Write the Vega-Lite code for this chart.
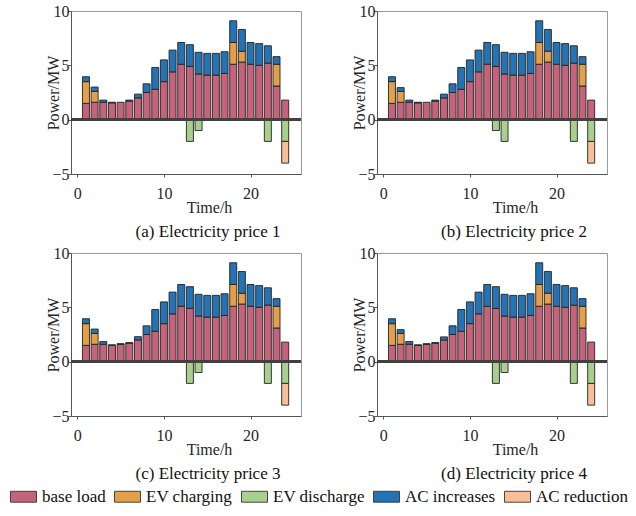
{
  "$schema": "https://vega.github.io/schema/vega-lite/v6.json",
  "padding": {"left": 10, "top": 2, "right": 5, "bottom": 5},
  "background": "white",
  "data": {
    "values": [
      {"p": "a", "h": 1, "base load": 1.5, "EV charging": 2.0, "AC increases": 0.45},
      {"p": "a", "h": 2, "base load": 1.6, "EV charging": 1.0, "AC increases": 0.4},
      {"p": "a", "h": 3, "base load": 1.6, "AC increases": 0.2},
      {"p": "a", "h": 4, "base load": 1.55, "AC increases": 0.05},
      {"p": "a", "h": 5, "base load": 1.6},
      {"p": "a", "h": 6, "base load": 1.7, "AC increases": 0.1},
      {"p": "a", "h": 7, "base load": 2.0, "AC increases": 0.35},
      {"p": "a", "h": 8, "base load": 2.5, "AC increases": 0.8},
      {"p": "a", "h": 9, "base load": 2.8, "AC increases": 2.0},
      {"p": "a", "h": 10, "base load": 3.5, "AC increases": 2.0},
      {"p": "a", "h": 11, "base load": 4.4, "AC increases": 2.0},
      {"p": "a", "h": 12, "base load": 5.1, "AC increases": 2.0},
      {"p": "a", "h": 13, "base load": 4.9, "EV discharge": -2.0, "AC increases": 2.0},
      {"p": "a", "h": 14, "base load": 4.2, "EV discharge": -1.0, "AC increases": 2.0},
      {"p": "a", "h": 15, "base load": 4.1, "AC increases": 2.0},
      {"p": "a", "h": 16, "base load": 4.1, "AC increases": 2.0},
      {"p": "a", "h": 17, "base load": 4.25, "AC increases": 2.0},
      {"p": "a", "h": 18, "base load": 5.1, "EV charging": 2.0, "AC increases": 2.0},
      {"p": "a", "h": 19, "base load": 5.3, "EV charging": 1.0, "AC increases": 2.0},
      {"p": "a", "h": 20, "base load": 5.1, "AC increases": 2.0},
      {"p": "a", "h": 21, "base load": 5.0, "AC increases": 2.0},
      {"p": "a", "h": 22, "base load": 5.2, "EV discharge": -2.0, "AC increases": 1.6},
      {"p": "a", "h": 23, "base load": 3.1, "EV charging": 2.0, "AC increases": 0.7},
      {"p": "a", "h": 24, "base load": 1.8, "EV discharge": -2.0, "AC reduction": -2.0},
      {"p": "b", "h": 1, "base load": 1.5, "EV charging": 2.0, "AC increases": 0.45},
      {"p": "b", "h": 2, "base load": 1.6, "EV charging": 1.0, "AC increases": 0.35},
      {"p": "b", "h": 3, "base load": 1.6, "AC increases": 0.2},
      {"p": "b", "h": 4, "base load": 1.55, "AC increases": 0.05},
      {"p": "b", "h": 5, "base load": 1.6},
      {"p": "b", "h": 6, "base load": 1.7, "AC increases": 0.1},
      {"p": "b", "h": 7, "base load": 2.0, "AC increases": 0.35},
      {"p": "b", "h": 8, "base load": 2.5, "AC increases": 0.8},
      {"p": "b", "h": 9, "base load": 2.8, "AC increases": 2.0},
      {"p": "b", "h": 10, "base load": 3.5, "AC increases": 2.0},
      {"p": "b", "h": 11, "base load": 4.4, "AC increases": 2.0},
      {"p": "b", "h": 12, "base load": 5.1, "AC increases": 2.0},
      {"p": "b", "h": 13, "base load": 4.9, "EV discharge": -1.0, "AC increases": 2.0},
      {"p": "b", "h": 14, "base load": 4.2, "EV discharge": -2.0, "AC increases": 2.0},
      {"p": "b", "h": 15, "base load": 4.1, "AC increases": 2.0},
      {"p": "b", "h": 16, "base load": 4.1, "AC increases": 2.0},
      {"p": "b", "h": 17, "base load": 4.25, "AC increases": 2.0},
      {"p": "b", "h": 18, "base load": 5.1, "EV charging": 2.0, "AC increases": 2.0},
      {"p": "b", "h": 19, "base load": 5.3, "EV charging": 1.0, "AC increases": 2.0},
      {"p": "b", "h": 20, "base load": 5.1, "AC increases": 2.0},
      {"p": "b", "h": 21, "base load": 5.0, "AC increases": 2.0},
      {"p": "b", "h": 22, "base load": 5.2, "EV discharge": -2.0, "AC increases": 1.6},
      {"p": "b", "h": 23, "base load": 3.1, "EV charging": 2.0, "AC increases": 0.7},
      {"p": "b", "h": 24, "base load": 1.8, "EV discharge": -2.0, "AC reduction": -2.0},
      {"p": "c", "h": 1, "base load": 1.5, "EV charging": 2.0, "AC increases": 0.45},
      {"p": "c", "h": 2, "base load": 1.6, "EV charging": 1.0, "AC increases": 0.4},
      {"p": "c", "h": 3, "base load": 1.6, "AC increases": 0.25},
      {"p": "c", "h": 4, "base load": 1.5, "AC increases": 0.05},
      {"p": "c", "h": 5, "base load": 1.6, "AC increases": 0.05},
      {"p": "c", "h": 6, "base load": 1.7, "AC increases": 0.05},
      {"p": "c", "h": 7, "base load": 2.0, "AC increases": 0.3},
      {"p": "c", "h": 8, "base load": 2.5, "AC increases": 0.8},
      {"p": "c", "h": 9, "base load": 2.8, "AC increases": 2.0},
      {"p": "c", "h": 10, "base load": 3.5, "AC increases": 2.0},
      {"p": "c", "h": 11, "base load": 4.4, "AC increases": 2.0},
      {"p": "c", "h": 12, "base load": 5.1, "AC increases": 2.0},
      {"p": "c", "h": 13, "base load": 4.9, "EV discharge": -2.0, "AC increases": 2.0},
      {"p": "c", "h": 14, "base load": 4.2, "EV discharge": -1.0, "AC increases": 2.0},
      {"p": "c", "h": 15, "base load": 4.1, "AC increases": 2.0},
      {"p": "c", "h": 16, "base load": 4.1, "AC increases": 2.0},
      {"p": "c", "h": 17, "base load": 4.25, "AC increases": 2.0},
      {"p": "c", "h": 18, "base load": 5.1, "EV charging": 2.0, "AC increases": 2.0},
      {"p": "c", "h": 19, "base load": 5.3, "EV charging": 1.0, "AC increases": 2.0},
      {"p": "c", "h": 20, "base load": 5.1, "AC increases": 2.0},
      {"p": "c", "h": 21, "base load": 5.0, "AC increases": 2.0},
      {"p": "c", "h": 22, "base load": 5.2, "EV discharge": -2.0, "AC increases": 1.6},
      {"p": "c", "h": 23, "base load": 3.1, "EV charging": 2.0, "AC increases": 0.7},
      {"p": "c", "h": 24, "base load": 1.8, "EV discharge": -2.0, "AC reduction": -2.0},
      {"p": "d", "h": 1, "base load": 1.5, "EV charging": 2.0, "AC increases": 0.45},
      {"p": "d", "h": 2, "base load": 1.6, "EV charging": 1.0, "AC increases": 0.35},
      {"p": "d", "h": 3, "base load": 1.6, "AC increases": 0.25},
      {"p": "d", "h": 4, "base load": 1.5, "AC increases": 0.05},
      {"p": "d", "h": 5, "base load": 1.6, "AC increases": 0.05},
      {"p": "d", "h": 6, "base load": 1.7, "AC increases": 0.05},
      {"p": "d", "h": 7, "base load": 2.0, "AC increases": 0.28},
      {"p": "d", "h": 8, "base load": 2.5, "AC increases": 0.8},
      {"p": "d", "h": 9, "base load": 2.8, "AC increases": 2.0},
      {"p": "d", "h": 10, "base load": 3.5, "AC increases": 2.0},
      {"p": "d", "h": 11, "base load": 4.4, "AC increases": 2.0},
      {"p": "d", "h": 12, "base load": 5.1, "AC increases": 2.0},
      {"p": "d", "h": 13, "base load": 4.9, "EV discharge": -2.0, "AC increases": 2.0},
      {"p": "d", "h": 14, "base load": 4.2, "EV discharge": -1.0, "AC increases": 2.0},
      {"p": "d", "h": 15, "base load": 4.1, "AC increases": 2.0},
      {"p": "d", "h": 16, "base load": 4.1, "AC increases": 2.0},
      {"p": "d", "h": 17, "base load": 4.25, "AC increases": 2.0},
      {"p": "d", "h": 18, "base load": 5.1, "EV charging": 2.0, "AC increases": 2.0},
      {"p": "d", "h": 19, "base load": 5.3, "EV charging": 1.0, "AC increases": 2.0},
      {"p": "d", "h": 20, "base load": 5.1, "AC increases": 2.0},
      {"p": "d", "h": 21, "base load": 5.0, "AC increases": 2.0},
      {"p": "d", "h": 22, "base load": 5.2, "EV discharge": -2.0, "AC increases": 1.6},
      {"p": "d", "h": 23, "base load": 3.1, "EV charging": 2.0, "AC increases": 0.7},
      {"p": "d", "h": 24, "base load": 1.8, "EV discharge": -2.0, "AC reduction": -2.0}
    ]
  },
  "transform": [
    {"fold": ["base load", "EV charging", "EV discharge", "AC increases", "AC reduction"], "as": ["type", "value"]},
    {"filter": "datum.value != null && datum.value != 0"}
  ],
  "columns": 2,
  "spacing": {"column": 48, "row": 3},
  "concat": [
    {
      "title": {"text": "(a) Electricity price 1"},
      "width": 230, "height": 163,
      "transform": [{"filter": "datum.p == 'a'"}],
      "layer": [
        {
          "mark": "bar",
          "encoding": {
            "x": {"field": "h", "type": "quantitative", "scale": {"domain": [-0.15, 25.25], "nice": false, "zero": false}, "axis": {"values": [0, 10, 20], "title": "Time/h"}},
            "y": {"field": "value", "type": "quantitative", "scale": {"domain": [-5, 10], "nice": false}, "axis": {"values": [-5, 0, 5, 10], "title": "Power/MW"}},
            "color": {"field": "type", "type": "nominal", "sort": ["base load", "EV charging", "EV discharge", "AC increases", "AC reduction"],
              "scale": {"domain": ["base load", "EV charging", "EV discharge", "AC increases", "AC reduction"], "range": ["#C4637A", "#E3A048", "#A9CF8E", "#2473B5", "#F7BE98"]}}
          }
        },
        {"mark": {"type": "rule", "color": "#404040", "strokeWidth": 2.5}, "encoding": {"y": {"datum": 0}}}
      ]
    },
    {
      "title": {"text": "(b) Electricity price 2"},
      "width": 230, "height": 163,
      "transform": [{"filter": "datum.p == 'b'"}],
      "layer": [
        {
          "mark": "bar",
          "encoding": {
            "x": {"field": "h", "type": "quantitative", "scale": {"domain": [-0.15, 25.25], "nice": false, "zero": false}, "axis": {"values": [0, 10, 20], "title": "Time/h"}},
            "y": {"field": "value", "type": "quantitative", "scale": {"domain": [-5, 10], "nice": false}, "axis": {"values": [-5, 0, 5, 10], "title": "Power/MW"}},
            "color": {"field": "type", "type": "nominal", "sort": ["base load", "EV charging", "EV discharge", "AC increases", "AC reduction"],
              "scale": {"domain": ["base load", "EV charging", "EV discharge", "AC increases", "AC reduction"], "range": ["#C4637A", "#E3A048", "#A9CF8E", "#2473B5", "#F7BE98"]}}
          }
        },
        {"mark": {"type": "rule", "color": "#404040", "strokeWidth": 2.5}, "encoding": {"y": {"datum": 0}}}
      ]
    },
    {
      "title": {"text": "(c) Electricity price 3"},
      "width": 230, "height": 163,
      "transform": [{"filter": "datum.p == 'c'"}],
      "layer": [
        {
          "mark": "bar",
          "encoding": {
            "x": {"field": "h", "type": "quantitative", "scale": {"domain": [-0.15, 25.25], "nice": false, "zero": false}, "axis": {"values": [0, 10, 20], "title": "Time/h"}},
            "y": {"field": "value", "type": "quantitative", "scale": {"domain": [-5, 10], "nice": false}, "axis": {"values": [-5, 0, 5, 10], "title": "Power/MW"}},
            "color": {"field": "type", "type": "nominal", "sort": ["base load", "EV charging", "EV discharge", "AC increases", "AC reduction"],
              "scale": {"domain": ["base load", "EV charging", "EV discharge", "AC increases", "AC reduction"], "range": ["#C4637A", "#E3A048", "#A9CF8E", "#2473B5", "#F7BE98"]}}
          }
        },
        {"mark": {"type": "rule", "color": "#404040", "strokeWidth": 2.5}, "encoding": {"y": {"datum": 0}}}
      ]
    },
    {
      "title": {"text": "(d) Electricity price 4"},
      "width": 230, "height": 163,
      "transform": [{"filter": "datum.p == 'd'"}],
      "layer": [
        {
          "mark": "bar",
          "encoding": {
            "x": {"field": "h", "type": "quantitative", "scale": {"domain": [-0.15, 25.25], "nice": false, "zero": false}, "axis": {"values": [0, 10, 20], "title": "Time/h"}},
            "y": {"field": "value", "type": "quantitative", "scale": {"domain": [-5, 10], "nice": false}, "axis": {"values": [-5, 0, 5, 10], "title": "Power/MW"}},
            "color": {"field": "type", "type": "nominal", "sort": ["base load", "EV charging", "EV discharge", "AC increases", "AC reduction"],
              "scale": {"domain": ["base load", "EV charging", "EV discharge", "AC increases", "AC reduction"], "range": ["#C4637A", "#E3A048", "#A9CF8E", "#2473B5", "#F7BE98"]}}
          }
        },
        {"mark": {"type": "rule", "color": "#404040", "strokeWidth": 2.5}, "encoding": {"y": {"datum": 0}}}
      ]
    }
  ],
  "config": {
    "view": {"stroke": "#999999", "strokeWidth": 1},
    "bar": {"size": 7, "stroke": "#222222", "strokeWidth": 0.9, "opacity": 1},
    "axis": {
      "labelFont": "Liberation Serif", "labelFontSize": 16, "labelColor": "#262626",
      "titleFont": "Liberation Serif", "titleFontSize": 16, "titleFontWeight": "normal", "titleColor": "#262626",
      "domainColor": "#555555", "tickColor": "#555555", "tickSize": 3, "grid": false, "labelFlush": false
    },
    "axisX": {"labelPadding": 8, "titlePadding": -2, "titleX": 138},
    "axisY": {"labelPadding": -1, "titlePadding": -10},
    "title": {"font": "Liberation Serif", "fontSize": 17, "fontWeight": "normal", "color": "#111111", "orient": "bottom", "dx": 22, "offset": 9},
    "legend": {
      "orient": "none", "legendX": -61, "legendY": 472, "direction": "horizontal", "title": null,
      "symbolType": "M-1,-0.42H1V0.42H-1Z", "symbolSize": 676, "symbolStrokeColor": "#333333", "symbolStrokeWidth": 1, "symbolOpacity": 1,
      "labelFont": "Liberation Serif", "labelFontSize": 17, "labelColor": "#111111", "labelOffset": 5, "columnPadding": 6
    }
  }
}
